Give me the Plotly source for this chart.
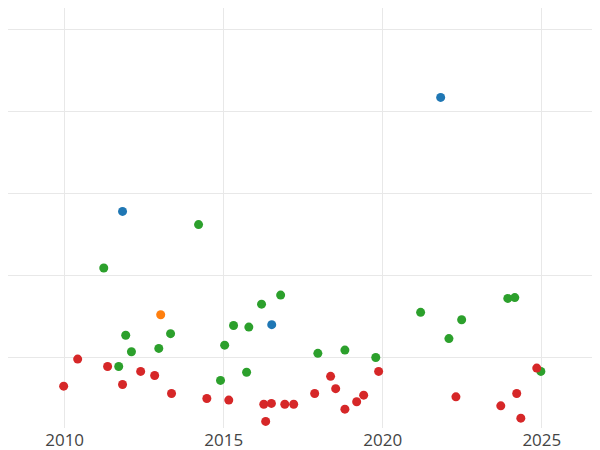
import plotly.graph_objects as go

blue_x = [2011.82, 2021.82, 2016.51]
blue_y = [2.78, 4.17, 1.40]
orange_x = [2013.02]
orange_y = [1.52]
green_x = [2011.23, 2014.21, 2011.92, 2011.7, 2012.1, 2012.96, 2013.33, 2014.9, 2015.03, 2015.31,
           2015.79, 2015.72, 2016.19, 2016.79, 2017.96, 2018.81, 2019.78, 2021.19, 2022.08, 2022.48,
           2023.93, 2024.15, 2024.97]
green_y = [2.09, 2.62, 1.27, 0.89, 1.07, 1.11, 1.29, 0.72, 1.15, 1.39,
           1.37, 0.82, 1.65, 1.76, 1.05, 1.09, 1.0, 1.55, 1.23, 1.46,
           1.72, 1.73, 0.83]
red_x = [2009.97, 2010.41, 2011.35, 2011.82, 2012.39, 2012.83, 2013.36, 2014.47, 2015.16, 2016.26,
         2016.32, 2016.5, 2016.92, 2017.2, 2017.86, 2018.36, 2018.52, 2018.81, 2019.18, 2019.4,
         2019.87, 2022.3, 2023.71, 2024.21, 2024.34, 2024.84]
red_y = [0.65, 0.98, 0.89, 0.67, 0.83, 0.78, 0.56, 0.5, 0.48, 0.43,
         0.22, 0.44, 0.43, 0.43, 0.56, 0.77, 0.62, 0.37, 0.46, 0.54,
         0.83, 0.52, 0.41, 0.56, 0.26, 0.87]

fig = go.Figure()
for xs, ys, c in [(blue_x, blue_y, "#1f77b4"), (orange_x, orange_y, "#ff7f0e"),
                  (green_x, green_y, "#2ca02c"), (red_x, red_y, "#d62728")]:
    fig.add_trace(go.Scatter(x=xs, y=ys, mode="markers",
                             marker=dict(color=c, size=9), showlegend=False))

fig.update_layout(
    template="plotly_white", width=600, height=450,
    margin=dict(l=0, r=0, t=0, b=30, pad=0),
    xaxis=dict(range=[2008.22, 2027.08], tickvals=[2010, 2015, 2020, 2025],
               tickfont=dict(size=17, color="#444"), showline=False, zeroline=False,
               gridcolor="#e8e8e8"),
    yaxis=dict(range=[0.14, 5.26], dtick=1, showticklabels=False, zeroline=False,
               gridcolor="#e8e8e8"),
    plot_bgcolor="white",
)
fig.write_html("out.html")
